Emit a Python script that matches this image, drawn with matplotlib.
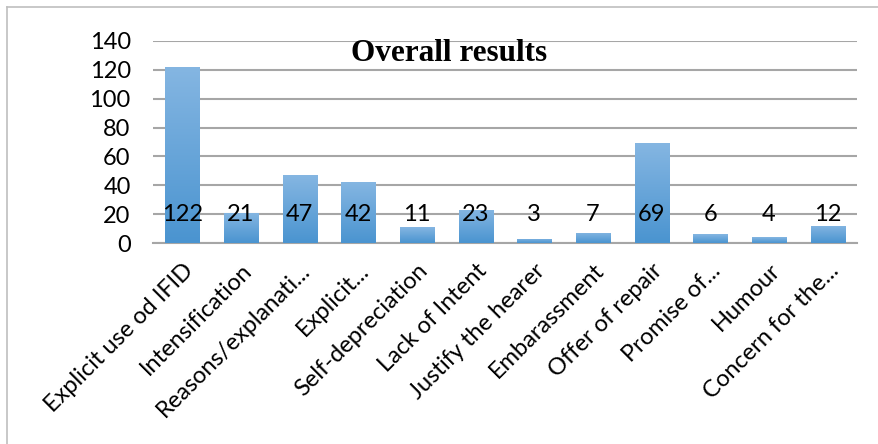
import numpy as np
import matplotlib.pyplot as plt
from matplotlib.lines import Line2D

categories = ['Explicit use od IFID', 'Intensification', 'Reasons/explanati...',
              'Explicit...', 'Self-depreciation', 'Lack of Intent',
              'Justify the hearer', 'Embarassment', 'Offer of repair',
              'Promise of...', 'Humour', 'Concern for the...']
values = [122, 21, 47, 42, 11, 23, 3, 7, 69, 6, 4, 12]
yticks = [0, 20, 40, 60, 80, 100, 120, 140]

plt.rcParams['font.family'] = ['Lato', 'DejaVu Sans']

fig = plt.figure(figsize=(8.79, 4.44), dpi=100)
ax = fig.add_axes([0.174, 0.4527, 0.801, 0.455])

x = np.arange(len(categories))
bars = ax.bar(x, values, width=0.58, color='#5b9bd5', zorder=2)

# vertical gradient inside each bar
grad = np.linspace(0, 1, 256).reshape(-1, 1)
cmap = plt.matplotlib.colors.LinearSegmentedColormap.from_list(
    'bluegrad', ['#4a94d0', '#85b6e2'])
for b in bars:
    x0, y0 = b.get_x(), b.get_y()
    im = ax.imshow(grad, extent=[x0, x0 + b.get_width(), y0, y0 + b.get_height()],
                   origin='lower', cmap=cmap, aspect='auto', zorder=3)
    im.set_clip_path(b)

for xi, v in zip(x, values):
    ax.text(xi, 19.5, str(v), ha='center', va='center', fontsize=17, zorder=4)

ax.set_xlim(-0.5, len(categories) - 0.5)
ax.set_ylim(0, 140)
ax.set_yticks(yticks)
ax.set_yticklabels([str(t) for t in yticks], fontsize=17)
ax.set_xticks(x)
ax.set_xticklabels(categories, rotation=45, ha='right', rotation_mode='anchor',
                   fontsize=17)
ax.tick_params(axis='both', length=0)
ax.tick_params(axis='y', pad=16)
ax.tick_params(axis='x', pad=12)
ax.yaxis.grid(True, color='#a6a6a6', linewidth=1.5, zorder=0)
ax.set_axisbelow(True)
for s in ['top', 'right', 'left']:
    ax.spines[s].set_visible(False)
ax.spines['bottom'].set_color('#a6a6a6')
ax.spines['bottom'].set_linewidth(1.5)

ax.text(4.55, 131, 'Overall results', ha='center', va='center',
        fontsize=22.5, fontweight='bold', family='Liberation Serif', zorder=5)

# outer chart border (left and top visible)
fig.add_artist(Line2D([0.0075, 0.0075], [0, 0.985], color='#bfbfbf', lw=1.2))
fig.add_artist(Line2D([0.0075, 1.0], [0.985, 0.985], color='#bfbfbf', lw=1.2))

fig.savefig('out.png', dpi=100)
